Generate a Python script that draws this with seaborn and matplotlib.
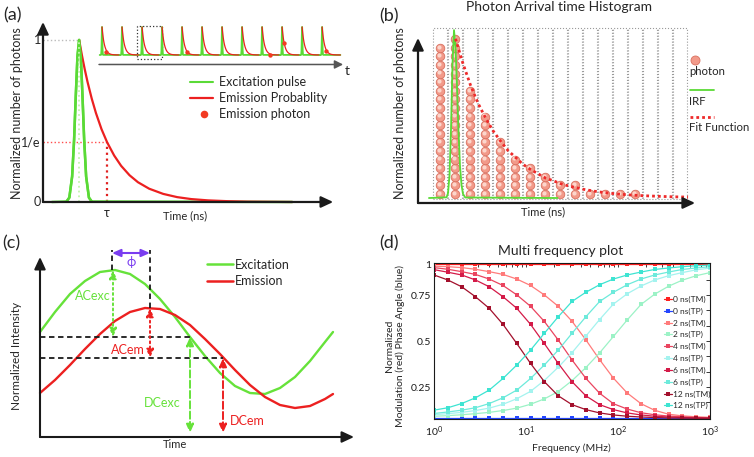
import numpy as np
import pandas as pd
import seaborn as sns
import matplotlib.pyplot as plt
from matplotlib.lines import Line2D
from matplotlib.patches import Rectangle
from matplotlib.transforms import offset_copy

W, H = 754, 457

# ---------------- (a) single pulse and decay (time in units of tau) ----------------
pulse_t = [0.32, 0.84, 0.94, 1.04, 1.11, 1.17, 1.23, 1.29, 1.35, 1.41, 1.47, 1.54, 1.64, 1.74, 8.9]
pulse_y = [0, 0.003, 0.027, 0.157, 0.383, 0.653, 0.899, 1.0, 0.899, 0.653, 0.383, 0.157, 0.027, 0.003, 0]
decay_t = [1.29, 1.39, 1.49, 1.59, 1.74, 1.89, 2.09, 2.29, 2.54, 2.79, 3.09, 3.39, 3.79, 4.29,
           4.79, 5.29, 5.89, 6.59, 7.29, 8.9]
decay_y = [1.0, 0.905, 0.819, 0.741, 0.638, 0.549, 0.449, 0.368, 0.287, 0.223, 0.165, 0.122,
           0.082, 0.050, 0.030, 0.018, 0.010, 0.005, 0.002, 0.0]
peak_t = 1.29
tau_t = 2.29
one_over_e = 0.368
n_pulses = 12
photon_pulse = [0.2, 4.25, 8.4, 9.1, 11.2]      # arrival, in pulse periods
photon_level = [0.11, 0.11, 0.0, 0.41, 0.14]
legend_a = ['Excitation pulse', 'Emission Probablity', 'Emission photon']

# ---------------- (b) photon arrival histogram ----------------
photon_counts = [18, 19, 13, 10, 7, 5, 4, 3, 2, 2, 1, 1, 1, 1, 0, 0, 0]
irf_t = [0.73, 1.9, 2.0, 2.1, 2.2, 2.3, 2.4, 2.5, 2.6, 2.7, 2.8, 2.9, 3.0, 3.15, 9.3]
irf_y = [0.58, 0.66, 1.14, 3.22, 8.6, 16.2, 20.1, 18.2, 13.5, 8.3, 4.3, 2.1, 1.05, 0.64, 0.58]
fit_t = [2.5, 3.0, 3.5, 4.0, 4.5, 5.0, 5.5, 6.0, 6.5, 7.0, 7.5, 8.0, 8.5, 9.0, 9.5, 10,
         11, 12, 13, 14, 15, 16, 17, 18]
fit_y = [19.1, 16.2, 13.7, 11.6, 9.9, 8.4, 7.2, 6.1, 5.3, 4.5, 3.9, 3.4, 2.9, 2.6, 2.25, 2.0,
         1.6, 1.3, 1.1, 0.95, 0.85, 0.78, 0.72, 0.69]

# ---------------- (c) frequency domain waves ----------------
wave_t = [0, 0.15, 0.30, 0.45, 0.60, 0.75, 0.90, 1.05, 1.20, 1.35, 1.50, 1.65, 1.80, 1.95,
          2.10, 2.25, 2.40, 2.55, 2.70, 2.85, 2.93]
exc_y = [1.05, 1.25, 1.43, 1.56, 1.65, 1.67, 1.63, 1.53, 1.38, 1.20, 1.00, 0.81, 0.64, 0.51,
         0.44, 0.43, 0.49, 0.60, 0.76, 0.95, 1.05]
emi_y = [0.44, 0.57, 0.72, 0.88, 1.03, 1.16, 1.25, 1.29, 1.28, 1.22, 1.12, 0.98, 0.83, 0.67,
         0.52, 0.40, 0.32, 0.29, 0.31, 0.38, 0.43]
exc_peak_t, exc_peak, exc_dc, exc_dc_t = 0.73, 1.67, 1.0, 1.50
emi_peak_t, emi_peak, emi_dc, emi_dc_t = 1.10, 1.29, 0.79, 1.83

# ---------------- (d) multi frequency plot ----------------
freq_mhz = [1.0, 1.41, 2.0, 2.82, 3.98, 5.62, 7.94, 11.2, 15.8, 22.4, 31.6, 44.7, 63.1, 89.1,
            126, 178, 251, 355, 501, 708, 1000]
tm_0 = [0.916, 0.916, 0.916, 0.916, 0.916, 0.916, 0.916, 0.916, 0.916, 0.916, 0.916,
        0.916, 0.916, 0.916, 0.916, 0.916, 0.916, 0.916, 0.916, 0.916, 0.916]
tp_0 = [0.081, 0.081, 0.081, 0.081, 0.081, 0.081, 0.081, 0.081, 0.081, 0.081, 0.081,
        0.081, 0.081, 0.081, 0.081, 0.081, 0.081, 0.081, 0.081, 0.081, 0.081]
tm_2 = [0.907, 0.904, 0.899, 0.890, 0.877, 0.862, 0.837, 0.802, 0.751, 0.689, 0.608, 0.507,
        0.399, 0.299, 0.218, 0.160, 0.124, 0.103, 0.094, 0.089, 0.086]
tp_2 = [0.092, 0.095, 0.100, 0.106, 0.113, 0.123, 0.136, 0.157, 0.186, 0.226, 0.285, 0.356,
        0.436, 0.525, 0.615, 0.699, 0.755, 0.798, 0.831, 0.855, 0.872]
tm_4 = [0.899, 0.890, 0.877, 0.862, 0.837, 0.802, 0.751, 0.689, 0.607, 0.506, 0.398, 0.298,
        0.217, 0.160, 0.131, 0.111, 0.100, 0.093, 0.089, 0.085, 0.083]
tp_4 = [0.100, 0.106, 0.113, 0.123, 0.136, 0.157, 0.187, 0.227, 0.286, 0.358, 0.437, 0.527,
        0.617, 0.701, 0.757, 0.799, 0.832, 0.855, 0.872, 0.887, 0.896]
tm_6 = [0.888, 0.874, 0.859, 0.832, 0.795, 0.741, 0.678, 0.591, 0.487, 0.379, 0.280, 0.203,
        0.155, 0.128, 0.110, 0.099, 0.092, 0.088, 0.085, 0.083, 0.082]
tp_6 = [0.107, 0.115, 0.125, 0.138, 0.161, 0.192, 0.234, 0.297, 0.370, 0.451, 0.542, 0.632,
        0.715, 0.765, 0.806, 0.837, 0.859, 0.875, 0.889, 0.897, 0.904]
tm_12 = [0.859, 0.832, 0.795, 0.741, 0.678, 0.591, 0.487, 0.379, 0.280, 0.203, 0.155, 0.128,
         0.110, 0.099, 0.092, 0.088, 0.085, 0.083, 0.082, 0.081, 0.081]
tp_12 = [0.125, 0.138, 0.161, 0.192, 0.234, 0.297, 0.370, 0.451, 0.542, 0.632, 0.715, 0.765,
         0.806, 0.837, 0.859, 0.875, 0.889, 0.897, 0.904, 0.909, 0.913]
series_names = ['0 ns(TM)', '0 ns(TP)', '2 ns(TM)', '2 ns(TP)', '4 ns(TM)', '4 ns(TP)',
                '6 ns(TM)', '6 ns(TP)', '12 ns(TM)', '12 ns(TP)']
series_values = [tm_0, tp_0, tm_2, tp_2, tm_4, tp_4, tm_6, tp_6, tm_12, tp_12]
series_colors = ['#ff2020', '#2446ff', '#ff7b7b', '#9cf2c6', '#ea4560', '#a4f3ef',
                 '#d41a48', '#6deadb', '#a3102c', '#3ee4d2']
y_major = [0.25, 0.5, 0.75, 11 / 12]
y_major_labels = ['0.25', '0.5', '0.75', '1']

sns.set_theme(style='white')
plt.rcParams['font.family'] = ['Lato', 'DejaVu Sans']
plt.rcParams['mathtext.fontset'] = 'custom'
plt.rcParams['mathtext.rm'] = 'Lato'

GREEN = '#5ada36'
RED = '#ec2020'
DOT_RED = '#f23a22'

fig = plt.figure(figsize=(W / 100, H / 100), dpi=100)


def add_px_axes(x0, x1, y0, y1):
    return fig.add_axes([x0 / W, 1 - y1 / H, (x1 - x0) / W, (y1 - y0) / H])


def arrow_axes(ax, x_end, y_end, lw=1.6):
    style = dict(arrowstyle='-|>,head_length=0.6,head_width=0.28', color='k', lw=lw,
                 shrinkA=0, shrinkB=0, mutation_scale=12)
    ax.annotate('', xy=(x_end, 0), xytext=(0, 0), arrowprops=style, zorder=6)
    ax.annotate('', xy=(0, y_end), xytext=(0, 0), arrowprops=style, zorder=6)


# ======================= (a) =======================
ax = add_px_axes(30, 350, 15, 225)
ax.set_xlim(-0.464, 10.96)
ax.set_ylim(-0.142, 1.154)
ax.axis('off')
arrow_axes(ax, 10.36, 1.111)
ax.plot([0, peak_t], [1, 1], ls=':', color='#bbbbbb', lw=1)
ax.plot([0, tau_t], [one_over_e, one_over_e], ls=':', color='#ff4d4d', lw=1)
ax.plot([tau_t, tau_t], [0, one_over_e], ls=':', color='#e02020', lw=1.6)
ax.plot(pulse_t, pulse_y, color=GREEN, lw=1.8)
ax.plot(decay_t, decay_y, color=RED, lw=1.6)
ax.plot(pulse_t[1:-1], pulse_y[1:-1], color=GREEN, lw=1.8)
ax.plot([peak_t, peak_t], [0, 1], ls=':', color='#c4f5ae', lw=1.3)
for val, lab in [(1, '1'), (one_over_e, '1/e'), (0, '0')]:
    ax.text(-0.08, val, lab, ha='right', va='center', fontsize=9)
ax.text(tau_t, -0.065, 'τ', ha='center', va='center', fontsize=9)
ax.text(5.07, -0.088, 'Time (ns)', ha='center', va='center', fontsize=8)
fig.text(17 / W, 1 - 113 / H, 'Normalized number of photons', rotation=90,
         ha='center', va='center', fontsize=9)
# legend of (a)
ax.plot([5.25, 6.07], [0.741, 0.741], color=GREEN, lw=1.5)
ax.plot([5.25, 6.07], [0.642, 0.642], color=RED, lw=1.6)
ax.scatter([5.75], [0.543], s=30, color=DOT_RED, linewidths=0)
for lab, yy in zip(legend_a, [0.741, 0.642, 0.543]):
    ax.text(6.29, yy, lab, ha='left', va='center', fontsize=9)

# pulse train inset
ins = ax.inset_axes([1.893, 0.784, 9.143, 0.327], transform=ax.transData)
ins.set_xlim(-0.3, 12.5)
ins.set_ylim(-0.714, 1.179)
ins.axis('off')
period_scale = 0.12
for k in range(n_pulses):
    ins.plot(k + (np.array(pulse_t) - peak_t) * period_scale, pulse_y, color=GREEN, lw=1.3)
    ins.plot(k + (np.array(decay_t) - peak_t) * period_scale, decay_y, color=RED, lw=0.9)
ins.scatter(photon_pulse, photon_level, s=10, color=DOT_RED, zorder=5, linewidths=0)
ins.add_patch(Rectangle((1.75, -0.14), 1.25, 1.18, fill=False, ls=':', lw=0.9, ec='#333333'))
ins.annotate('', xy=(12.05, -0.34), xytext=(-0.15, -0.34),
             arrowprops=dict(arrowstyle='-|>,head_length=0.5,head_width=0.25', color='#555555',
                             lw=1.1, mutation_scale=10, shrinkA=0, shrinkB=0))
ins.text(12.15, -0.57, 't', ha='left', va='center', fontsize=10)

# ======================= (b) =======================
ax = add_px_axes(400, 750, 15, 225)
ax.set_xlim(-1.2, 22.13)
ax.set_ylim(-2.558, 21.86)
ax.axis('off')
bin_centers = np.arange(len(photon_counts)) + 1.465
ax.bar(bin_centers, 19.85, bottom=0.5, width=0.89, fill=False, edgecolor='#9a9a9a',
       linestyle=':', linewidth=0.8, zorder=1)
ph_x = [c for c, n in zip(bin_centers, photon_counts) for j in range(n)]
ph_y = [1.05 + j for n in photon_counts for j in range(n)]
ax.scatter(ph_x, ph_y, s=38, color='#f29a8a', edgecolor='#d9705f', linewidth=0.6, zorder=2)
shine = offset_copy(ax.transData, fig=fig, x=-0.7, y=0.8, units='points')
ax.scatter(ph_x, ph_y, s=9, color='#fcd6cc', linewidths=0, zorder=2.5, transform=shine)
ax.plot(irf_t, irf_y, color=GREEN, lw=1.3, zorder=3)
ax.plot(fit_t, fit_y, color='#ee2a2a', lw=2.0, ls=(0, (1, 1.1)), zorder=4)
arrow_axes(ax, 18.47, 19.19)
ax.text(9.4, 22.79, 'Photon Arrival time Histogram', ha='center', va='center', fontsize=10)
ax.text(8.33, -1.05, 'Time (ns)', ha='center', va='center', fontsize=8)
fig.text(400 / W, 1 - 113 / H, 'Normalized number of photons', rotation=90,
         ha='center', va='center', fontsize=9)
# legend (label under each symbol)
tr = ax.transAxes
ax.scatter([0.843], [0.786], s=42, color='#f29a8a', edgecolor='#d9705f', linewidth=0.6,
           transform=tr, clip_on=False)
ax.text(0.826, 0.729, 'photon', transform=tr, ha='left', va='center', fontsize=8.2)
ax.plot([0.829, 0.897], [0.643, 0.643], color=GREEN, lw=1.3, transform=tr, clip_on=False)
ax.text(0.826, 0.586, 'IRF', transform=tr, ha='left', va='center', fontsize=8.2)
ax.plot([0.829, 0.897], [0.514, 0.514], color='#ee2a2a', lw=2.0, ls=(0, (1, 1.1)),
        transform=tr, clip_on=False)
ax.text(0.826, 0.462, 'Fit Function', transform=tr, ha='left', va='center', fontsize=8.2)

# ======================= (c) =======================
ax = add_px_axes(25, 370, 236, 455)
ax.set_xlim(-0.15, 3.30)
ax.set_ylim(-0.18, 2.01)
ax.axis('off')
arrow_axes(ax, 3.14, 1.80, lw=1.5)
GREEN_C = '#66e23a'
PURPLE = '#7a3df0'
ax.plot(wave_t, exc_y, color=GREEN_C, lw=1.7)
ax.plot(wave_t, emi_y, color=RED, lw=1.7)
dash = (0, (3, 2))
ax.plot([0, exc_dc_t], [exc_dc, exc_dc], ls=dash, color='k', lw=1.3)
ax.plot([0, emi_dc_t], [emi_dc, emi_dc], ls=dash, color='k', lw=1.3)
ax.plot([exc_peak_t - 0.01, exc_peak_t - 0.01], [exc_peak, 1.87], ls=dash, color='k', lw=1.3)
ax.plot([emi_peak_t, emi_peak_t], [emi_peak, 1.87], ls=dash, color='k', lw=1.3)
ax.annotate('', xy=(emi_peak_t, 1.84), xytext=(exc_peak_t - 0.01, 1.84),
            arrowprops=dict(arrowstyle='<|-|>,head_length=0.5,head_width=0.22', color=PURPLE,
                            lw=1.5, mutation_scale=10, shrinkA=0, shrinkB=0))
ax.text(0.91, 1.75, 'ϕ', color=PURPLE, ha='center', va='center', fontsize=9)


def double_arrow(x, y0, y1, color, ls):
    ax.annotate('', xy=(x, y1), xytext=(x, y0),
                arrowprops=dict(arrowstyle='<|-|>,head_length=0.5,head_width=0.22', color=color,
                                lw=1.4, ls=ls, mutation_scale=10, shrinkA=0, shrinkB=0))


double_arrow(exc_peak_t, exc_peak, exc_dc, GREEN_C, ':')
double_arrow(emi_peak_t, emi_peak, emi_dc, RED, ':')
double_arrow(exc_dc_t, exc_dc, 0.04, GREEN_C, '--')
double_arrow(emi_dc_t, emi_dc, 0.04, RED, '--')
ax.text(0.53, 1.41, 'ACexc', color=GREEN_C, ha='center', va='center', fontsize=9)
ax.text(0.88, 0.87, 'ACem', color=RED, ha='center', va='center', fontsize=9)
ax.text(1.22, 0.34, 'DCexc', color=GREEN_C, ha='center', va='center', fontsize=9)
ax.text(2.07, 0.16, 'DCem', color=RED, ha='center', va='center', fontsize=9)
ax.text(1.35, -0.08, 'Time', ha='center', va='center', fontsize=8)
fig.text(17 / W, 1 - 356 / H, 'Normalized Intensity', rotation=90, ha='center', va='center',
         fontsize=8.5)
ax.legend([Line2D([], [], color=GREEN_C, lw=1.8), Line2D([], [], color=RED, lw=1.8)],
          ['Excitation', 'Emission'], loc='upper left', bbox_to_anchor=(0.528, 0.897),
          frameon=False, fontsize=9, handlelength=2.1, handletextpad=0.1, labelspacing=0.35,
          borderpad=0, borderaxespad=0)

# ======================= (d) =======================
ax_d = add_px_axes(434, 710, 263, 419)
rows = [(name, f, v) for name, vals in zip(series_names, series_values)
        for f, v in zip(freq_mhz, vals)]
df = pd.DataFrame(rows, columns=['series', 'freq', 'value'])
sns.lineplot(data=df, x='freq', y='value', hue='series', hue_order=series_names,
             palette=series_colors, marker='s', markersize=2.3, markeredgewidth=0,
             linewidth=0.9, ax=ax_d)
ax_d.set_xscale('log')
ax_d.set_xlim(1, 1000)
ax_d.set_ylim(0.077, 0.924)
ax_d.set_yticks(y_major)
ax_d.set_yticklabels(y_major_labels)
ax_d.set_yticks(np.arange(1, 12) / 12, minor=True)
ax_d.tick_params(which='both', direction='in', top=True, right=True, length=3, width=0.6,
                 colors='k', labelsize=7.5)
ax_d.tick_params(axis='x', pad=4)
ax_d.tick_params(axis='y', pad=2)
for sp in ax_d.spines.values():
    sp.set_color('k')
    sp.set_linewidth(0.8)
ax_d.set_xlabel('Frequency (MHz)', fontsize=7.5)
ax_d.xaxis.set_label_coords(0.496, -0.155)
ax_d.set_ylabel('Normalized\nModulation (red) Phase Angle (blue)', fontsize=7.5)
ax_d.yaxis.set_label_coords(-0.105, 0.47)
ax_d.set_title('Multi frequency plot', fontsize=10, x=0.457, pad=6)
leg = ax_d.get_legend()
handles = leg.legend_handles
labels = [t.get_text() for t in leg.get_texts()]
leg.remove()
ax_d.legend(handles, labels, loc='upper left', bbox_to_anchor=(0.833, 0.79), frameon=False,
            fontsize=6, handlelength=1.0, handletextpad=0.15, labelspacing=0.56,
            borderpad=0, borderaxespad=0)

# panel letters
for lab, x, y in [('(a)', 3, 15), ('(b)', 379, 16), ('(c)', 2, 243), ('(d)', 379, 243)]:
    fig.text(x / W, 1 - y / H, lab, ha='left', va='center', fontsize=13)

fig.savefig('out.png', dpi=100)
